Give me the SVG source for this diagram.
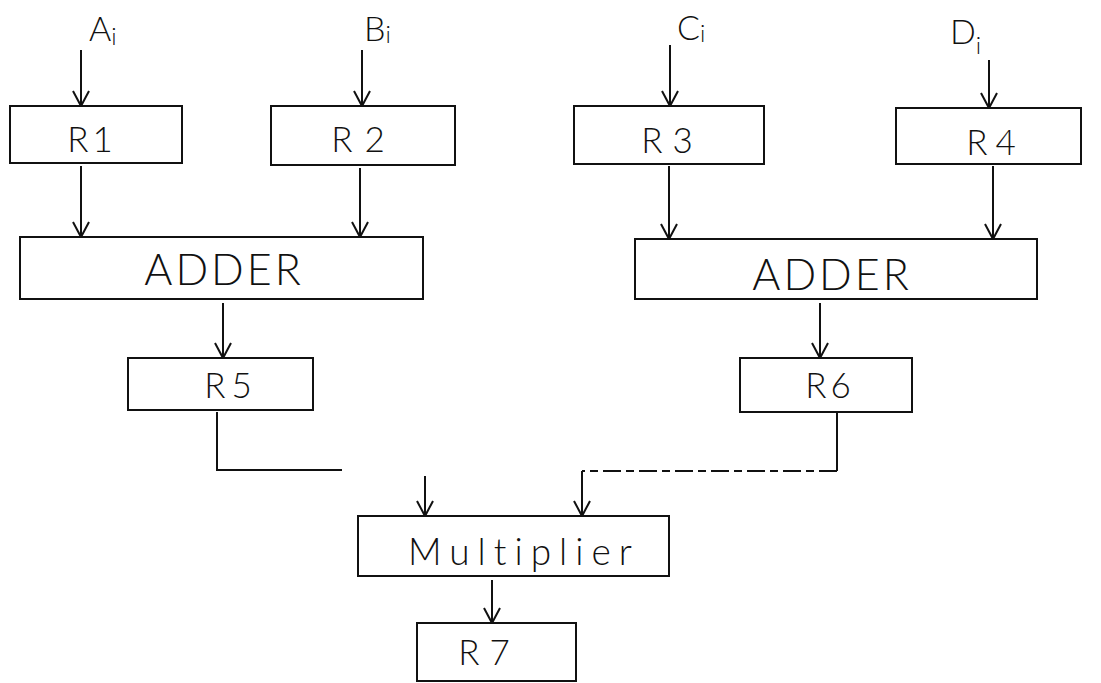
<svg xmlns="http://www.w3.org/2000/svg" width="1101" height="683" viewBox="0 0 1101 683">
<style>
.box{fill:#fff;stroke:#111;stroke-width:2}
.lbl{font-family:Lato,"Liberation Sans",sans-serif;font-weight:300;fill:#111;text-anchor:middle}
.reg{font-size:35px;letter-spacing:4px}
.add{font-size:43px;letter-spacing:3px}
.in{font-size:34px;text-anchor:start}
.sub{font-size:24px}
.con{fill:none;stroke:#111;stroke-width:2}
.dash{stroke-dasharray:18 5 8 5}
</style>
<defs>
<marker id="arr" markerUnits="userSpaceOnUse" orient="auto" overflow="visible" refX="0" refY="0" markerWidth="16" markerHeight="16">
<path d="M-15,-8 L0,0 L-15,8" fill="none" stroke="#111" stroke-width="2"/>
</marker>
</defs>
<rect width="1101" height="683" fill="#fff"/>

<g id="inputs">
<text class="lbl in" x="89" y="41">A<tspan class="sub" dy="4">i</tspan></text>
<text class="lbl in" x="364" y="41">B<tspan class="sub" dy="2">i</tspan></text>
<text class="lbl in" x="677" y="40">C<tspan class="sub" dy="2">i</tspan></text>
<text class="lbl in" x="950" y="44">D<tspan class="sub" dy="10">i</tspan></text>
</g>

<g id="connectors">
<line class="con" x1="81" y1="50" x2="81" y2="106" marker-end="url(#arr)"/>
<line class="con" x1="362" y1="50" x2="362" y2="106" marker-end="url(#arr)"/>
<line class="con" x1="670" y1="45" x2="670" y2="106" marker-end="url(#arr)"/>
<line class="con" x1="989" y1="60" x2="989" y2="108" marker-end="url(#arr)"/>
<line class="con" x1="81" y1="166" x2="81" y2="237" marker-end="url(#arr)"/>
<line class="con" x1="360" y1="168" x2="360" y2="237" marker-end="url(#arr)"/>
<line class="con" x1="669" y1="166" x2="669" y2="239" marker-end="url(#arr)"/>
<line class="con" x1="993" y1="166" x2="993" y2="239" marker-end="url(#arr)"/>
<line class="con" x1="223" y1="303" x2="223" y2="358" marker-end="url(#arr)"/>
<line class="con" x1="820" y1="303" x2="820" y2="358" marker-end="url(#arr)"/>
<polyline class="con" points="217,412 217,470 342,470"/>
<line class="con" x1="425" y1="476" x2="425" y2="516" marker-end="url(#arr)"/>
<polyline class="con" points="837,412 837,471"/>
<polyline class="con dash" points="837,471 582,471"/>
<polyline class="con" points="582,471 582,516" marker-end="url(#arr)"/>
<line class="con" x1="492" y1="580" x2="492" y2="623" marker-end="url(#arr)"/>
</g>

<g id="R1"><rect class="box" x="10" y="106" width="172" height="57"/><text class="lbl reg" x="92" y="152">R1</text></g>
<g id="R2"><rect class="box" x="271" y="106" width="184" height="59"/><text class="lbl reg" x="364" y="152" style="letter-spacing:12px">R2</text></g>
<g id="R3"><rect class="box" x="574" y="106" width="190" height="58"/><text class="lbl reg" x="672" y="153" style="letter-spacing:10px">R3</text></g>
<g id="R4"><rect class="box" x="896" y="108" width="185" height="56"/><text class="lbl reg" x="995" y="155" style="letter-spacing:8px">R4</text></g>
<g id="ADDER1"><rect class="box" x="20" y="237" width="403" height="62"/><text class="lbl add" x="224" y="285">ADDER</text></g>
<g id="ADDER2"><rect class="box" x="635" y="239" width="402" height="60"/><text class="lbl add" x="832" y="290">ADDER</text></g>
<g id="R5"><rect class="box" x="128" y="358" width="185" height="52"/><text class="lbl reg" x="231" y="398" style="letter-spacing:6px">R5</text></g>
<g id="R6"><rect class="box" x="740" y="358" width="172" height="54"/><text class="lbl reg" x="830" y="398">R6</text></g>
<g id="Multiplier"><rect class="box" x="358" y="516" width="311" height="60"/><text class="lbl" x="408" y="565" style="font-size:37px;letter-spacing:8px;text-anchor:start">Multiplier</text></g>
<g id="R7"><rect class="box" x="417" y="623" width="159" height="58"/><text class="lbl reg" x="489" y="665" style="letter-spacing:10px">R7</text></g>
</svg>
